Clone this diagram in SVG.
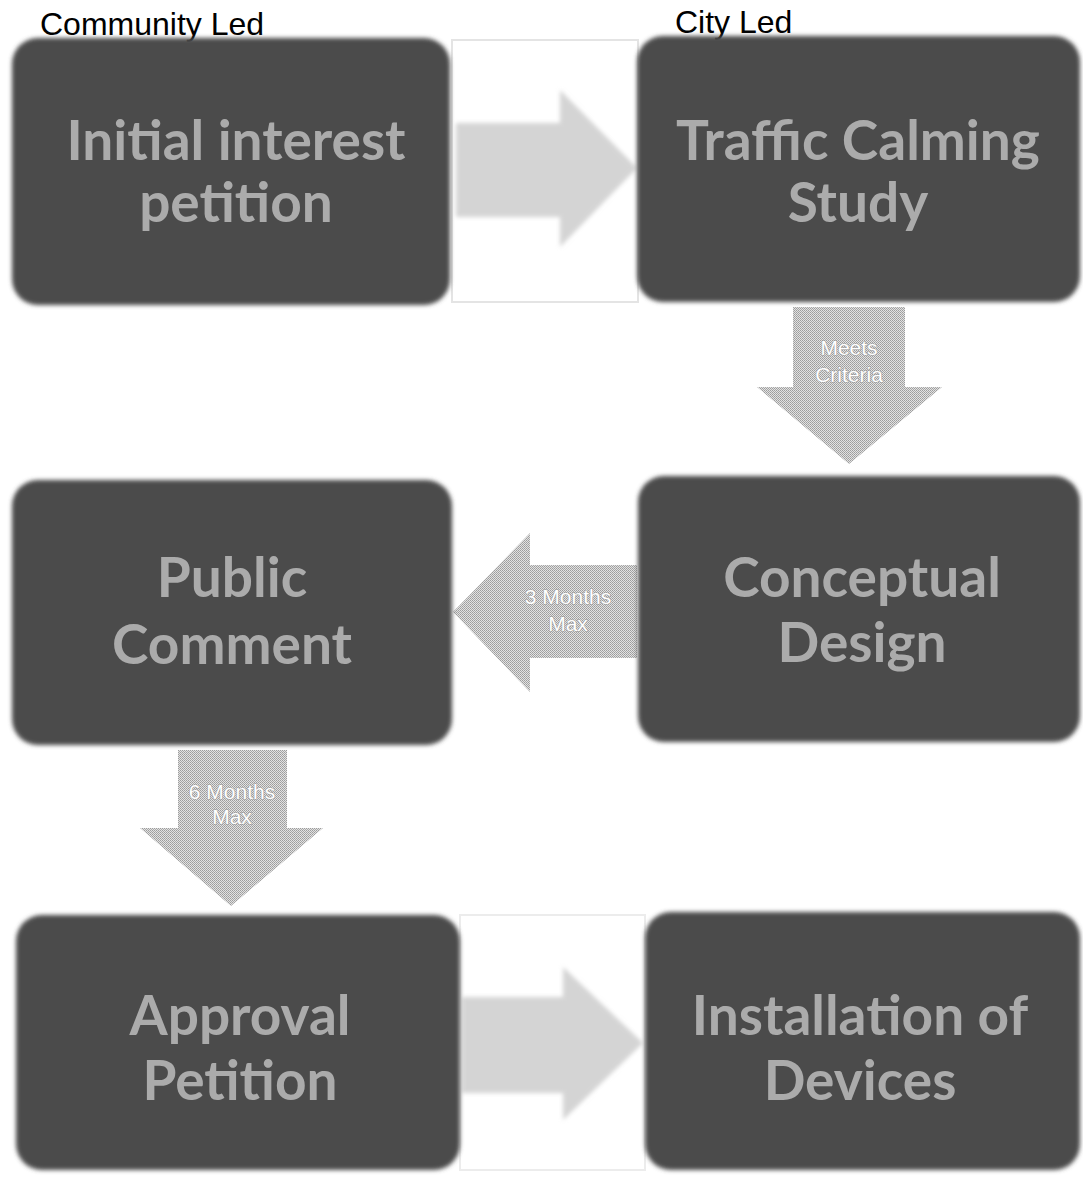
<svg xmlns="http://www.w3.org/2000/svg" width="1083" height="1178" viewBox="0 0 1083 1178">
<style>
.lbl{font-family:"Liberation Sans",Arial,sans-serif;font-size:32px;fill:#000}
.nt{font-family:Lato,"Open Sans",sans-serif;font-weight:bold;font-size:55px;fill:#ababab;text-anchor:middle}
.at{font-family:"Liberation Sans",Arial,sans-serif;font-size:21px;fill:#ffffff;text-anchor:middle;stroke:#9a9a9a;stroke-width:1;paint-order:stroke}
.node{fill:#4b4b4b;filter:url(#soft)}
.arrowT{fill:url(#dots)}
.arrowL{fill:#d4d4d4;filter:url(#soft)}
</style>
<defs>
<filter id="soft" x="-5%" y="-5%" width="110%" height="110%"><feGaussianBlur stdDeviation="2"/></filter>
<pattern id="dots" width="2" height="2" patternUnits="userSpaceOnUse">
<rect width="2" height="2" fill="#e2e2e2"/>
<rect x="0" y="0" width="1" height="1" fill="#9c9c9c"/>
<rect x="1" y="1" width="1" height="1" fill="#a8a8a8"/>
</pattern>
</defs>
<rect width="1083" height="1178" fill="#ffffff"/>
<text class="lbl" x="40" y="35">Community Led</text>
<text class="lbl" x="675" y="33">City Led</text>
<g id="connectors">
<rect x="452" y="40" width="186" height="262" fill="none" stroke="#e4e4e4" stroke-width="2"/>
<polygon class="arrowL" points="456,123 560,123 560,90 637,168 560,247 560,217 456,217"/>
<g id="c2"><polygon class="arrowT" points="793,307 905,307 905,387 942,387 849,464 757,387 793,387"/>
<text class="at" x="849" y="355">Meets</text><text class="at" x="849" y="382">Criteria</text></g>
<g id="c3"><polygon class="arrowT" points="637,565 530,565 530,533 453,612 530,692 530,658 637,658"/>
<text class="at" x="568" y="604">3 Months</text><text class="at" x="568" y="631">Max</text></g>
<g id="c4"><polygon class="arrowT" points="178,750 287,750 287,828 323,828 231,906 140,828 178,828"/>
<text class="at" x="232" y="799">6 Months</text><text class="at" x="232" y="824">Max</text></g>
<rect x="460" y="915" width="185" height="255" fill="none" stroke="#ececec" stroke-width="2"/>
<polygon class="arrowL" points="462,997 563,997 563,967 643,1043 563,1120 563,1093 462,1093"/>
</g>
<g id="n1"><rect class="node" x="12" y="38" width="438" height="267" rx="26"/>
<text class="nt" x="236" y="160">Initial interest</text><text class="nt" x="236" y="222">petition</text></g>
<g id="n2"><rect class="node" x="637" y="36" width="443" height="266" rx="26"/>
<text class="nt" x="858" y="160">Traffic Calming</text><text class="nt" x="858" y="222">Study</text></g>
<g id="n3"><rect class="node" x="12" y="480" width="440" height="265" rx="26"/>
<text class="nt" x="232" y="597">Public</text><text class="nt" x="232" y="664">Comment</text></g>
<g id="n4"><rect class="node" x="638" y="476" width="442" height="266" rx="26"/>
<text class="nt" x="862" y="597">Conceptual</text><text class="nt" x="862" y="662">Design</text></g>
<g id="n5"><rect class="node" x="16" y="915" width="444" height="255" rx="26"/>
<text class="nt" x="240" y="1035">Approval</text><text class="nt" x="240" y="1100">Petition</text></g>
<g id="n6"><rect class="node" x="645" y="912" width="435" height="258" rx="26"/>
<text class="nt" x="860" y="1035">Installation of</text><text class="nt" x="860" y="1100">Devices</text></g>
</svg>
